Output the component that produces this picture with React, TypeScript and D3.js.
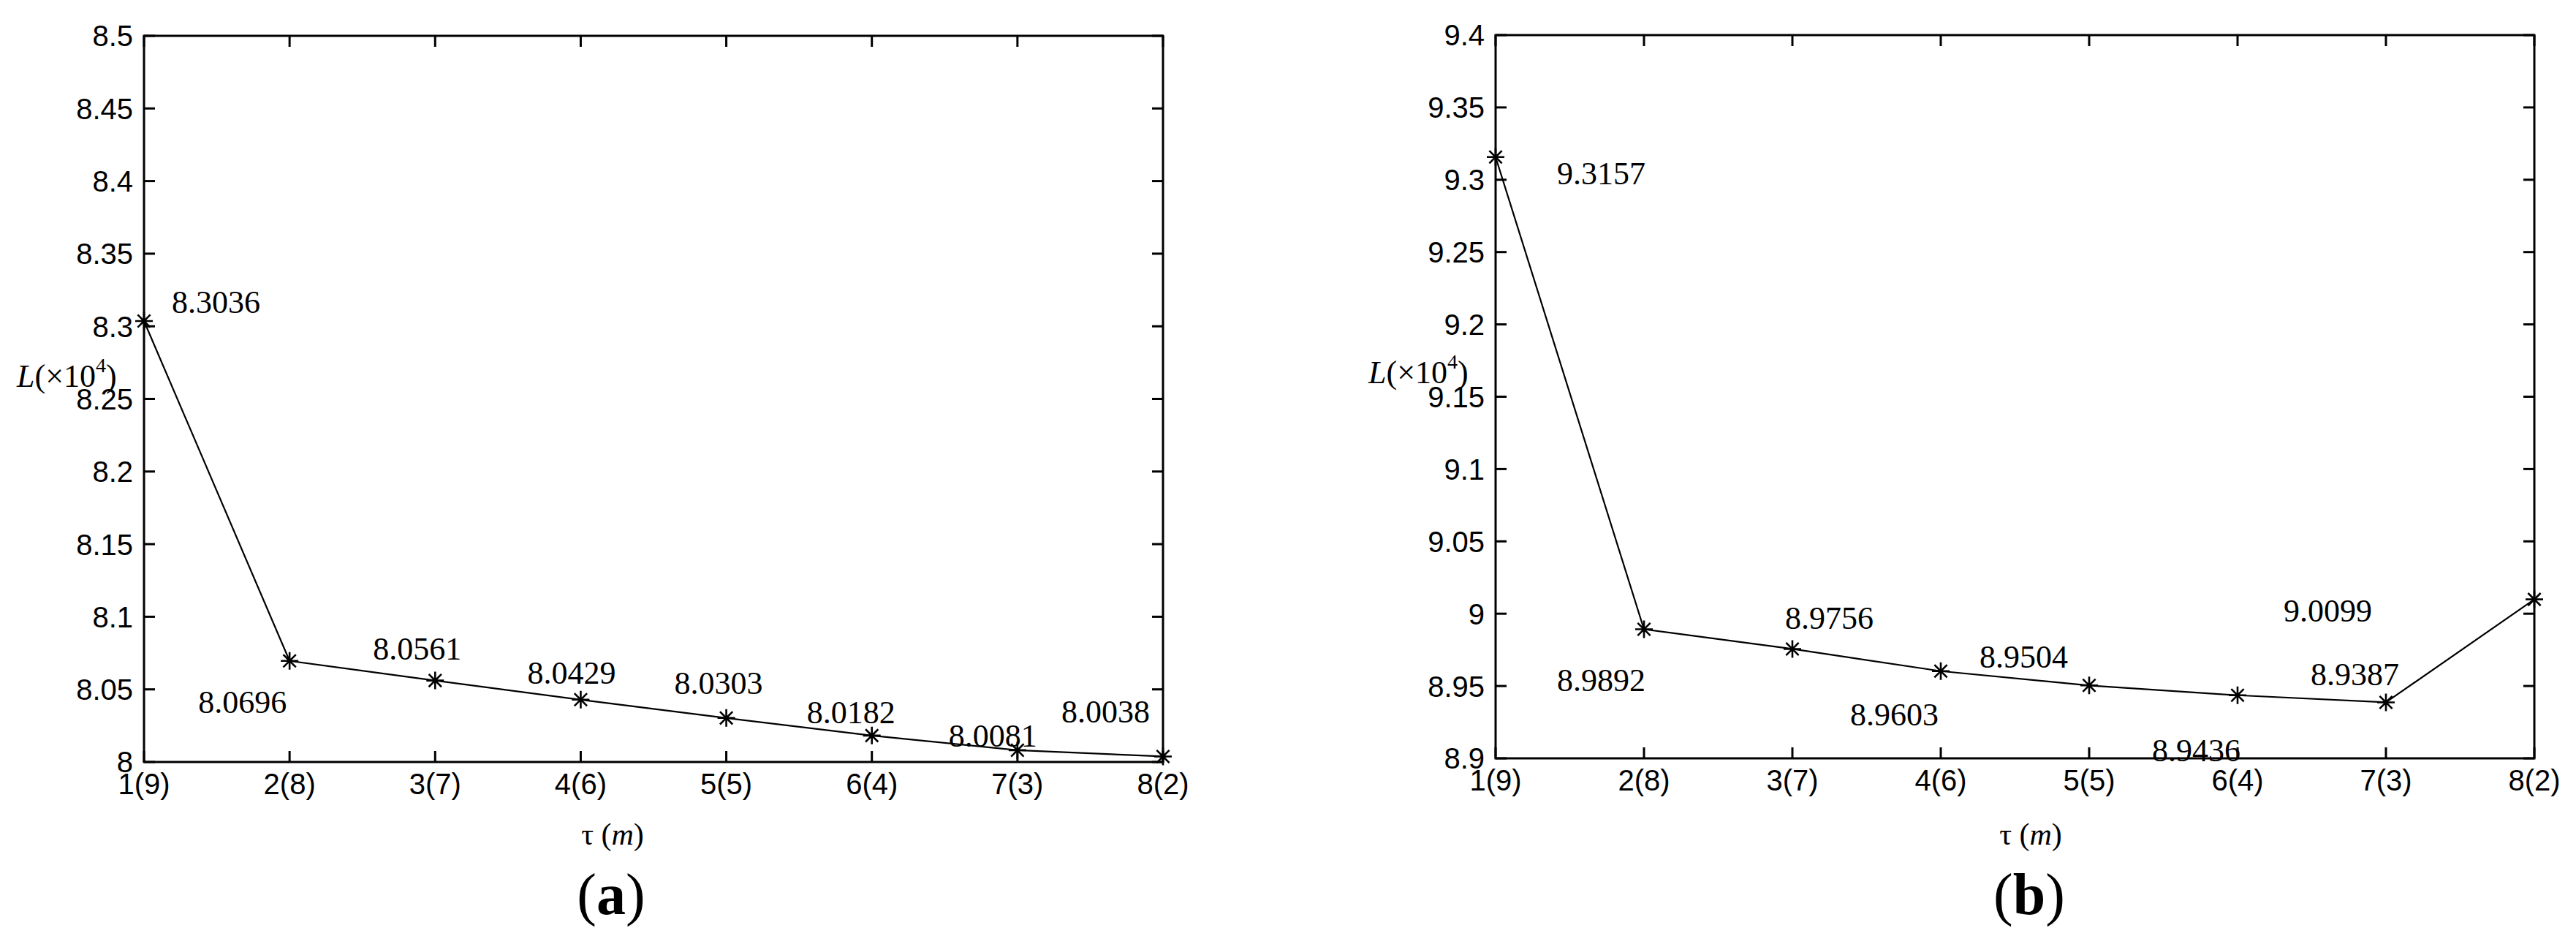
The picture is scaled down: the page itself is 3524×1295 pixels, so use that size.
import React from 'react';
import * as d3 from 'd3';

// categories on the x axis: tau (m)
const categories = ['1(9)', '2(8)', '3(7)', '4(6)', '5(5)', '6(4)', '7(3)', '8(2)'];

// L (x10^4) values
const valuesA = [8.3036, 8.0696, 8.0561, 8.0429, 8.0303, 8.0182, 8.0081, 8.0038];
const valuesB = [9.3157, 8.9892, 8.9756, 8.9603, 8.9504, 8.9436, 8.9387, 9.0099];

const yTicksA = [8, 8.05, 8.1, 8.15, 8.2, 8.25, 8.3, 8.35, 8.4, 8.45, 8.5];
const yTicksB = [8.9, 8.95, 9, 9.05, 9.1, 9.15, 9.2, 9.25, 9.3, 9.35, 9.4];

const panelNames = ['a', 'b'];

// layout of each panel (pixels)
const layouts = [
  {
    left: 197, right: 1591, top: 49, bottom: 1042,
    yLabel: { x: 23, y: 529 }, xLabel: { x: 838, y: 1155 }, tag: { x: 836, y: 1250 },
    // annotation offsets from their point: [dx, dy]
    offsets: [[38, -11], [-125, 71], [-85, -29], [-73, -22], [-71, -33], [-89, -17], [-94, -5], [-139, -46]],
  },
  {
    left: 2046, right: 3467, top: 48, bottom: 1037,
    yLabel: { x: 1872, y: 524 }, xLabel: { x: 2778, y: 1155 }, tag: { x: 2776, y: 1250 },
    offsets: [[84, 37], [-119, 84], [-10, -27], [-124, 74], [-150, -24], [-117, 90], [-103, -23], [-343, 30]],
  },
];

const tickFont = '"Liberation Sans", Arial, sans-serif';
const serif = '"Liberation Serif", "Times New Roman", serif';

function asterisk(cx: number, cy: number, r: number) {
  const d = r * 0.72;
  return `M${cx - r},${cy}L${cx + r},${cy}M${cx},${cy - r}L${cx},${cy + r}` +
    `M${cx - d},${cy - d}L${cx + d},${cy + d}M${cx - d},${cy + d}L${cx + d},${cy - d}`;
}

function Panel({ values, yTicks, name, lay }: any) {
  const x = d3.scalePoint<string>().domain(categories).range([lay.left, lay.right]);
  const y = d3.scaleLinear().domain([yTicks[0], yTicks[yTicks.length - 1]]).range([lay.bottom, lay.top]);
  const line = d3.line<number>().x((_, i) => x(categories[i]) as number).y(d => y(d));
  const fmt = (v: number) => String(+v.toFixed(2));
  const tl = 15;

  return (
    <g>
      <path d={line(values) as string} fill="none" stroke="#000" strokeWidth={2.2} />
      {values.map((v: number, i: number) => (
        <path key={'m' + i} d={asterisk(x(categories[i]) as number, y(v), 12)} stroke="#000" strokeWidth={2.6} fill="none" />
      ))}
      {values.map((v: number, i: number) => (
        <text key={'t' + i} x={(x(categories[i]) as number) + lay.offsets[i][0]} y={y(v) + lay.offsets[i][1]}
          fontFamily={serif} fontSize={44} fill="#000">{v.toFixed(4)}</text>
      ))}
      {/* box */}
      <rect x={lay.left} y={lay.top} width={lay.right - lay.left} height={lay.bottom - lay.top}
        fill="none" stroke="#000" strokeWidth={3} />
      {/* y ticks */}
      {yTicks.map((t: number) => (
        <g key={'y' + t}>
          <line x1={lay.left} x2={lay.left + tl} y1={y(t)} y2={y(t)} stroke="#000" strokeWidth={3} />
          <line x1={lay.right} x2={lay.right - tl} y1={y(t)} y2={y(t)} stroke="#000" strokeWidth={3} />
          <text x={lay.left - 15} y={y(t)} dy="0.36em" textAnchor="end" fontFamily={tickFont} fontSize={40} fill="#000">{fmt(t)}</text>
        </g>
      ))}
      {/* x ticks */}
      {categories.map(c => (
        <g key={'x' + c}>
          <line x1={x(c)} x2={x(c)} y1={lay.bottom} y2={lay.bottom - tl} stroke="#000" strokeWidth={3} />
          <line x1={x(c)} x2={x(c)} y1={lay.top} y2={lay.top + tl} stroke="#000" strokeWidth={3} />
          <text x={x(c)} y={lay.bottom + 44} textAnchor="middle" fontFamily={tickFont} fontSize={40} fill="#000">{c}</text>
        </g>
      ))}
      {/* axis labels */}
      <text x={lay.yLabel.x} y={lay.yLabel.y} fontFamily={serif} fontSize={44} fill="#000">
        <tspan fontStyle="italic">L</tspan>
        <tspan>(×10</tspan>
        <tspan fontSize={28} dy={-20}>4</tspan>
        <tspan dy={20}>)</tspan>
      </text>
      <text x={lay.xLabel.x} y={lay.xLabel.y} textAnchor="middle" fontFamily={serif} fontSize={42} fill="#000">
        τ (<tspan fontStyle="italic">m</tspan>)
      </text>
      <text x={lay.tag.x} y={lay.tag.y} textAnchor="middle" fontFamily={serif} fontSize={80} fill="#000">
        (<tspan fontWeight="bold">{name}</tspan>)
      </text>
    </g>
  );
}

export default function App() {
  return (
    <svg width={3524} height={1295} style={{ position: 'absolute', left: 0, top: 0, background: '#fff' }}>
      <rect width={3524} height={1295} fill="#fff" />
      <Panel values={valuesA} yTicks={yTicksA} name={panelNames[0]} lay={layouts[0]} />
      <Panel values={valuesB} yTicks={yTicksB} name={panelNames[1]} lay={layouts[1]} />
    </svg>
  );
}
